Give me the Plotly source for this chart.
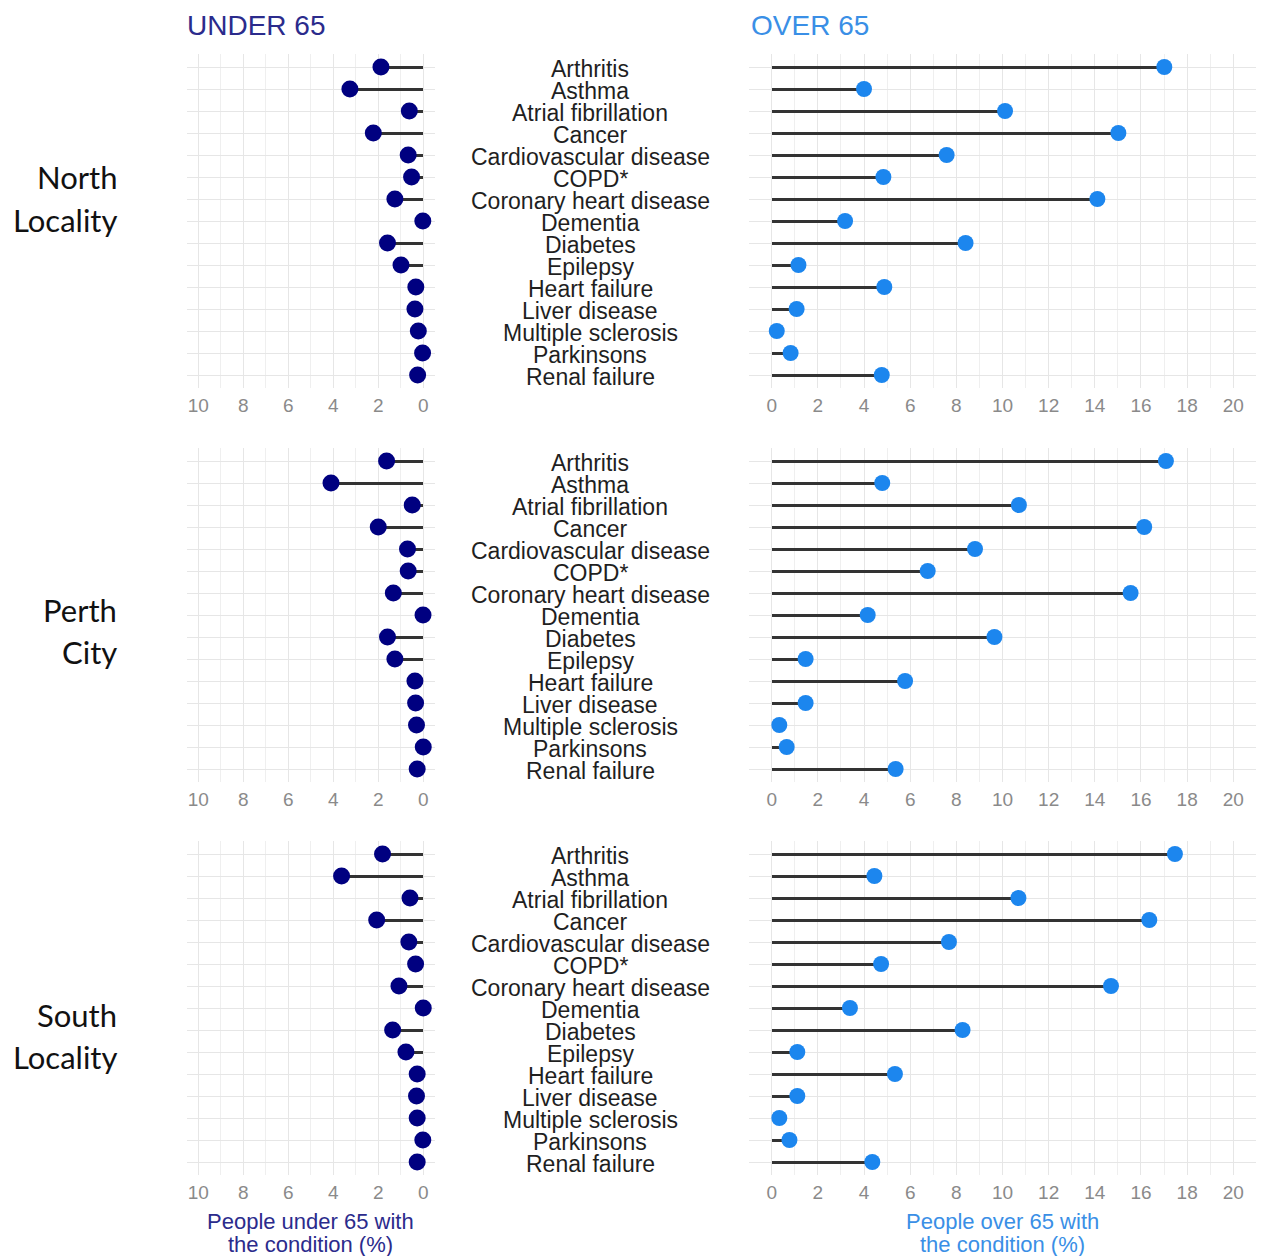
import plotly.graph_objects as go

W, H = 1261, 1256

conditions = ["Arthritis", "Asthma", "Atrial fibrillation", "Cancer",
              "Cardiovascular disease", "COPD*", "Coronary heart disease",
              "Dementia", "Diabetes", "Epilepsy", "Heart failure",
              "Liver disease", "Multiple sclerosis", "Parkinsons", "Renal failure"]

localities = [["North", "Locality"], ["Perth", "City"], ["South", "Locality"]]

north_under = [1.88, 3.26, 0.62, 2.22, 0.67, 0.52, 1.26, 0.02, 1.59, 0.99, 0.33, 0.37, 0.22, 0.03, 0.25]
north_over = [17.01, 4.00, 10.11, 15.02, 7.58, 4.84, 14.11, 3.18, 8.40, 1.16, 4.88, 1.08, 0.22, 0.82, 4.77]
perth_under = [1.63, 4.10, 0.49, 2.00, 0.70, 0.67, 1.33, 0.01, 1.59, 1.26, 0.37, 0.34, 0.30, 0.00, 0.27]
perth_over = [17.08, 4.79, 10.71, 16.14, 8.81, 6.76, 15.55, 4.16, 9.65, 1.47, 5.78, 1.47, 0.33, 0.65, 5.37]
south_under = [1.81, 3.63, 0.59, 2.07, 0.64, 0.34, 1.08, 0.00, 1.36, 0.77, 0.27, 0.30, 0.27, 0.02, 0.27]
south_over = [17.47, 4.45, 10.69, 16.36, 7.68, 4.74, 14.70, 3.39, 8.27, 1.11, 5.34, 1.11, 0.33, 0.77, 4.36]

under_tickvals = [0, 2, 4, 6, 8, 10]
over_tickvals = [0, 2, 4, 6, 8, 10, 12, 14, 16, 18, 20]

under_series = [north_under, perth_under, south_under]
over_series = [north_over, perth_over, south_over]

# pixel layout
row_px = [(53.8, 388.2), (447.8, 782.2), (840.8, 1175.2)]
loc_line_px = [(177, 220), (610, 652), (1015, 1057)]
left_px = (187.0, 434.5)
mid_px = (440.0, 740.0)
right_px = (748.6, 1256.4)

C_UNDER = "#000080"
C_OVER = "#1C86EE"
C_UNDER_TXT = "#2b2b8c"
C_OVER_TXT = "#3a8fe6"
C_SEG = "#333333"
GRID = "#e6e6e6"
MINOR = "#efefef"
FONT = "Liberation Sans, Arial, sans-serif"


def xd(px):
    return [px[0] / W, px[1] / W]


def yd(px):
    return [1 - px[1] / H, 1 - px[0] / H]


fig = go.Figure()
layout = {}
annotations = []

ax = 0
for r in range(3):
    ydom = yd(row_px[r])
    for kind in ("under", "mid", "over"):
        ax += 1
        xa = "x" if ax == 1 else f"x{ax}"
        ya = "y" if ax == 1 else f"y{ax}"
        xkey = "xaxis" if ax == 1 else f"xaxis{ax}"
        ykey = "yaxis" if ax == 1 else f"yaxis{ax}"
        yaxis = dict(domain=ydom, anchor=xa, type="category",
                     categoryorder="array", categoryarray=conditions,
                     range=[len(conditions) - 0.4, -0.6],
                     showticklabels=False, ticks="", zeroline=False,
                     showline=False, fixedrange=True)
        if kind == "mid":
            layout[xkey] = dict(domain=xd(mid_px), anchor=ya, range=[-1, 1],
                                visible=False, fixedrange=True)
            yaxis["showgrid"] = False
            layout[ykey] = yaxis
            # invisible anchor trace so the axes are drawn
            fig.add_trace(go.Scatter(x=[0] * len(conditions), y=conditions, mode="markers",
                                     marker=dict(opacity=0), xaxis=xa, yaxis=ya,
                                     hoverinfo="skip", showlegend=False))
            for c in conditions:
                annotations.append(dict(text=c, x=0, y=c, xref=xa, yref=ya,
                                        xanchor="center", yanchor="middle", yshift=-2,
                                        showarrow=False,
                                        font=dict(family=FONT, size=23, color="#1f1f1f")))
            continue
        if kind == "under":
            vals = under_series[r]
            color = C_UNDER
            xaxis = dict(domain=xd(left_px), anchor=ya, range=[10.5, -0.5],
                         tickvals=under_tickvals)
            msize = 17
        else:
            vals = over_series[r]
            color = C_OVER
            xaxis = dict(domain=xd(right_px), anchor=ya, range=[-1, 21],
                         tickvals=over_tickvals)
            msize = 16
        xaxis.update(showgrid=True, gridcolor=GRID, gridwidth=1.4,
                     minor=dict(dtick=1, tick0=0, showgrid=True,
                                gridcolor=MINOR, gridwidth=1.2),
                     zeroline=False, showline=False, ticks="",
                     tickfont=dict(family=FONT, size=19, color="#8a8a8a"),
                     ticklabelstandoff=4, fixedrange=True)
        yaxis.update(showgrid=True, gridcolor=GRID, gridwidth=1.4)
        layout[xkey] = xaxis
        layout[ykey] = yaxis
        fig.add_trace(go.Bar(
            x=vals, y=conditions, orientation="h", width=0.13,
            marker=dict(color=C_SEG, line=dict(width=0)),
            xaxis=xa, yaxis=ya, hoverinfo="skip", showlegend=False))
        fig.add_trace(go.Scatter(
            x=vals, y=conditions, mode="markers",
            marker=dict(color=color, size=msize, line=dict(width=0)),
            xaxis=xa, yaxis=ya, showlegend=False,
            hovertemplate="%{y}: %{x:.1f}%<extra></extra>"))

# column titles
annotations.append(dict(text="UNDER 65", x=185 / W, y=1 - 25 / H, xref="paper", yref="paper",
                        xanchor="left", yanchor="middle", showarrow=False,
                        font=dict(family=FONT, size=28, color=C_UNDER_TXT)))
annotations.append(dict(text="OVER 65", x=749 / W, y=1 - 25 / H, xref="paper", yref="paper",
                        xanchor="left", yanchor="middle", showarrow=False,
                        font=dict(family=FONT, size=28, color=C_OVER_TXT)))
# locality labels
for r, lines in enumerate(localities):
    for i, line in enumerate(lines):
        annotations.append(dict(text=line, x=119 / W, y=1 - loc_line_px[r][i] / H,
                                xref="paper", yref="paper", xanchor="right", yanchor="middle",
                                showarrow=False,
                                font=dict(family="Lato, Open Sans, sans-serif", size=31,
                                          color="#111111")))
# axis titles (bottom)
for cx, lines, col in [((left_px[0] + left_px[1]) / 2, ["People under 65 with", "the condition (%)"], C_UNDER_TXT),
                       ((right_px[0] + right_px[1]) / 2, ["People over 65 with", "the condition (%)"], C_OVER_TXT)]:
    for i, line in enumerate(lines):
        annotations.append(dict(text=line, x=cx / W, y=1 - (1221 + 23 * i) / H,
                                xref="paper", yref="paper", xanchor="center", yanchor="middle",
                                showarrow=False, font=dict(family=FONT, size=22, color=col)))

fig.update_layout(width=W, height=H, margin=dict(l=0, r=0, t=0, b=0),
                  paper_bgcolor="white", plot_bgcolor="white",
                  showlegend=False, annotations=annotations, bargap=0,
                  font=dict(family=FONT), **layout)

fig.write_html("out.html", config={"displayModeBar": False},
               post_script="document.body.style.margin='0';document.body.style.overflow='hidden';")
